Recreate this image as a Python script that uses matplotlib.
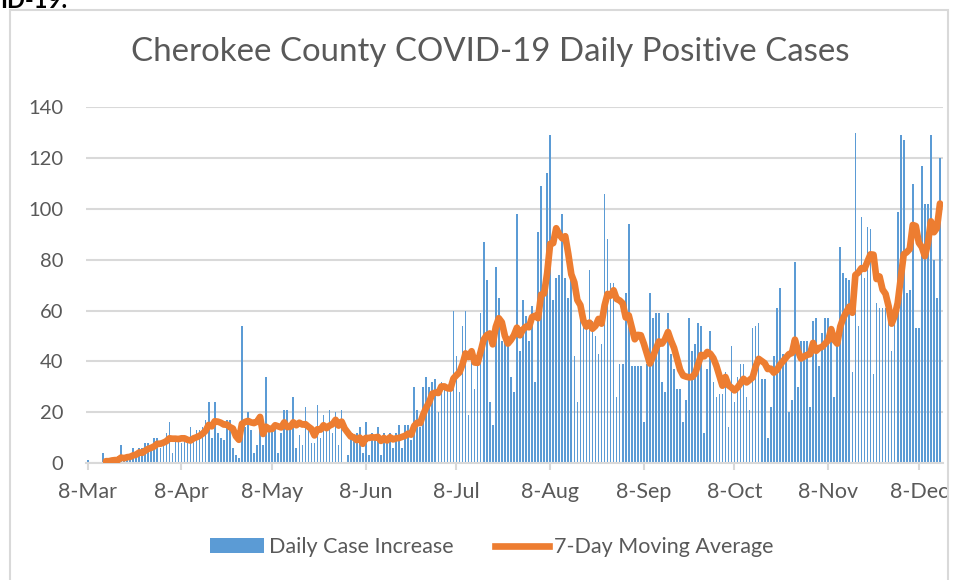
import matplotlib
matplotlib.use("Agg")
import matplotlib.pyplot as plt
from matplotlib.patches import Rectangle, Patch
from matplotlib.lines import Line2D
import pandas as pd

plt.rcParams['font.family'] = ['Lato', 'DejaVu Sans']

start_date = "2020-03-08"
daily_cases = [
    1, 0, 0, 0, 0, 4, 0, 1, 2, 1, 0, 7, 2, 3, 2, 6, 3, 6, 6, 8,
    8, 5, 10, 10, 6, 9, 12, 16, 4, 10, 9, 8, 9, 8, 14, 10, 13, 13, 14, 17,
    24, 10, 24, 12, 10, 9, 17, 17, 6, 3, 2, 54, 14, 20, 13, 4, 7, 15, 7, 34,
    13, 14, 14, 4, 12, 21, 21, 14, 26, 6, 11, 7, 22, 14, 8, 8, 23, 10, 19, 14,
    21, 12, 20, 7, 21, 0, 3, 10, 10, 12, 14, 4, 16, 3, 12, 9, 14, 3, 12, 9,
    12, 6, 12, 15, 6, 15, 15, 9, 30, 21, 14, 30, 34, 30, 32, 33, 20, 32, 30, 29,
    29, 60, 42, 28, 54, 60, 19, 45, 29, 41, 59, 87, 72, 24, 15, 77, 65, 48, 50, 50,
    34, 28, 98, 44, 64, 58, 48, 62, 32, 91, 109, 67, 114, 129, 64, 73, 74, 98, 73, 65,
    73, 42, 24, 60, 56, 56, 76, 56, 50, 43, 47, 106, 88, 71, 71, 26, 39, 39, 67, 94,
    38, 38, 38, 38, 16, 39, 67, 57, 59, 59, 32, 28, 59, 43, 37, 29, 29, 16, 25, 57,
    44, 47, 55, 54, 12, 37, 52, 32, 26, 27, 27, 36, 14, 46, 24, 34, 39, 39, 26, 21,
    53, 54, 55, 33, 33, 10, 22, 42, 61, 69, 43, 43, 20, 25, 79, 30, 48, 48, 48, 22,
    56, 57, 38, 51, 57, 57, 53, 26, 47, 85, 75, 73, 72, 36, 130, 54, 97, 73, 93, 92,
    35, 63, 61, 61, 61, 59, 44, 56, 99, 129, 127, 67, 68, 110, 53, 53, 117, 102, 102, 129,
    80, 65, 120,
]
tick_dates = ["2020-03-08", "2020-04-08", "2020-05-08", "2020-06-08", "2020-07-08",
              "2020-08-08", "2020-09-08", "2020-10-08", "2020-11-08", "2020-12-08"]
tick_labels = ["8-Mar", "8-Apr", "8-May", "8-Jun", "8-Jul",
               "8-Aug", "8-Sep", "8-Oct", "8-Nov", "8-Dec"]
y_ticks = [0, 20, 40, 60, 80, 100, 120, 140]

dates = pd.date_range(start_date, periods=len(daily_cases), freq="D")
moving_avg = pd.Series(daily_cases, index=dates).rolling(7).mean()

fig = plt.figure(figsize=(9.57, 5.8), dpi=100)

# chart border (bottom edge lies outside the picture, as in the screenshot)
fig.patches.append(Rectangle((10/957, -0.01), 938/957, 1 - 10/580 + 0.01,
                             transform=fig.transFigure, fill=False,
                             edgecolor="#d9d9d9", lw=1.5))
# cut-off text at the top-left of the screenshot
fig.text(0.0, 1.0, "ID-19:", fontsize=17, color="black", ha="left", va="center",
         fontweight="bold")

ax = fig.add_axes([86/957, 1 - 463/580, (943 - 86)/957, (463 - 107.4)/580])
ax.bar(dates, daily_cases, width=0.55, color="#5b9bd5", zorder=2)
ax.plot(dates, moving_avg, color="#ed7d31", lw=4.8, solid_capstyle="round",
        solid_joinstyle="round", zorder=3)

ax.set_ylim(0, 140)
ax.set_xlim(dates[0] - pd.Timedelta(days=0.6), dates[-1] + pd.Timedelta(days=1.0))
ax.set_yticks(y_ticks)
ax.set_xticks(pd.to_datetime(tick_dates))
ax.set_xticklabels(tick_labels)
ax.yaxis.grid(True, color="#d9d9d9", lw=1.5, zorder=0)
ax.set_axisbelow(True)
for s in ["top", "right", "left"]:
    ax.spines[s].set_visible(False)
ax.spines["bottom"].set_color("#d9d9d9")
ax.spines["bottom"].set_linewidth(1.5)
ax.tick_params(axis="y", length=0, pad=16.5, labelsize=14.5, labelcolor="#595959")
ax.tick_params(axis="x", length=5, width=1.5, color="#d9d9d9", pad=9,
               labelsize=15.5, labelcolor="#595959")

fig.text(490/957, 1 - 52/580, "Cherokee County COVID-19 Daily Positive Cases",
         ha="center", va="center", fontsize=23.8, color="#595959")

handles = [Patch(facecolor="#5b9bd5", edgecolor="none"),
           Line2D([0], [0], color="#ed7d31", lw=4.8)]
fig.legend(handles, ["Daily Case Increase", "7-Day Moving Average"],
           loc="center", bbox_to_anchor=(492/957, 1 - 547/580), ncol=2,
           frameon=False, fontsize=15.5, labelcolor="#595959",
           handlelength=2.5, handleheight=0.65, handletextpad=0.25,
           columnspacing=1.9)

fig.savefig("out.png", dpi=100)
